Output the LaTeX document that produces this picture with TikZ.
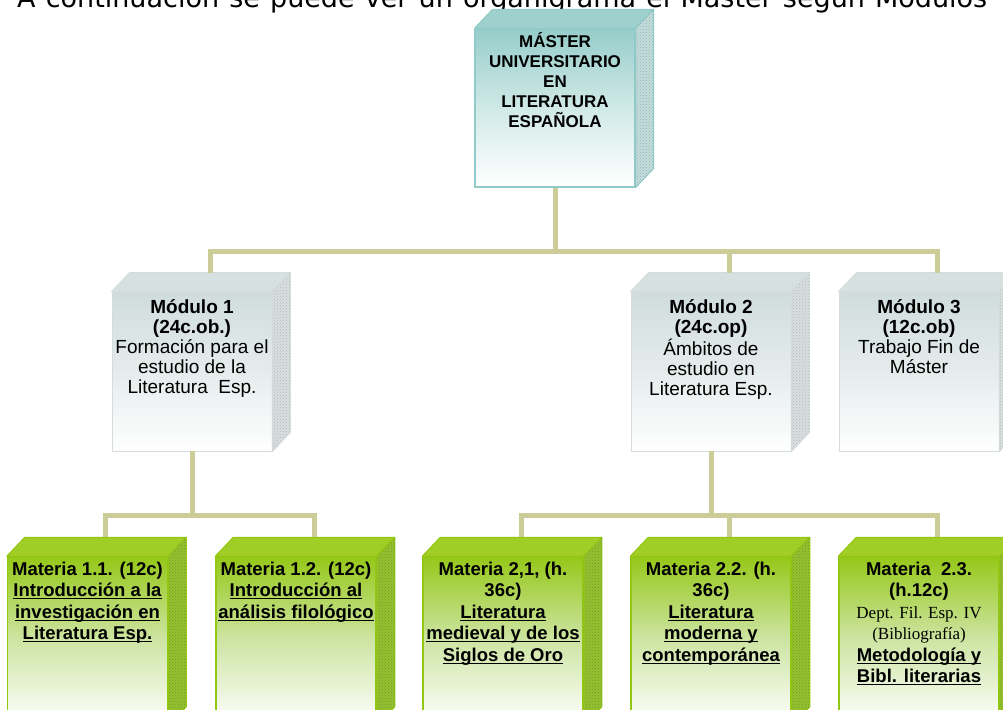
\documentclass[tikz,border=0pt]{standalone}
\usepackage{fontspec}
\setmainfont{Liberation Sans}
\newfontfamily\deptfont{Liberation Serif}
\newfontfamily\titlefont{DejaVu Sans}
\usetikzlibrary{positioning, patterns}

\definecolor{tealfront}{RGB}{150,205,202}
\definecolor{tealmid}{RGB}{208,233,231}
\definecolor{tealtop}{RGB}{158,209,206}
\definecolor{tealedge}{RGB}{145,202,200}
\definecolor{tealside}{RGB}{196,220,220}
\definecolor{tealdots}{RGB}{140,178,178}
\definecolor{grayfront}{RGB}{208,220,220}
\definecolor{graymid}{RGB}{229,236,236}
\definecolor{graytop}{RGB}{214,224,224}
\definecolor{grayedge}{RGB}{212,220,220}
\definecolor{grayside}{RGB}{218,222,222}
\definecolor{graydots}{RGB}{178,186,186}
\definecolor{greenfront}{RGB}{150,200,25}
\definecolor{greenmid}{RGB}{206,229,165}
\definecolor{greentop}{RGB}{160,206,38}
\definecolor{greenedge}{RGB}{146,198,20}
\definecolor{greenside}{RGB}{150,192,50}
\definecolor{greendots}{RGB}{112,158,30}
\definecolor{linkcol}{RGB}{204,204,153}

% underline with a fixed rule
\newsavebox\ulbox
\newcommand{\ulin}[1]{\sbox\ulbox{#1}\leavevmode\rlap{\rule[-2.6pt]{\wd\ulbox}{1.4pt}}\usebox\ulbox}

% top and side faces of a box: node, top colour, side colour, dots colour, edge colour
\newcommand{\boxsides}[5]{%
        \filldraw[fill=#2, draw=#5, line width=1pt, line join=round] (#1.north west) -- ++(18,-19) -- ([shift={(18,-19)}]#1.north east) -- (#1.north east) -- cycle;
        \filldraw[fill=#3, draw=#5, line width=1pt, line join=round] (#1.north east) -- ++(18,-19) -- ([shift={(18,-19)}]#1.south east) -- (#1.south east) -- cycle;
        \fill[pattern=crosshatch dots, pattern color=#4] (#1.north east) -- ++(18,-19) -- ([shift={(18,-19)}]#1.south east) -- (#1.south east) -- cycle;
        \coordinate (#1-top) at ([shift={(18,-19)}]#1.north);
}

\begin{document}
\begin{tikzpicture}[x=1pt, y=-1pt]

% Styles
        \tikzstyle{masterface}=[rectangle, draw=tealedge, line width=1.2pt, top color=tealfront, bottom color=white, middle color=tealmid, minimum width=160, minimum height=158, inner sep=0pt]
        \tikzstyle{modface}=[rectangle, draw=grayedge, line width=0.8pt, top color=grayfront, bottom color=white, middle color=graymid, minimum width=160, minimum height=159, inner sep=0pt]
        \tikzstyle{matface}=[rectangle, draw=greenedge, line width=1.5pt, top color=greenfront, bottom color=white, middle color=greenmid, minimum width=160, minimum height=168, inner sep=0pt]
        \tikzstyle{mastertext}=[inner sep=0pt, align=center, font=\bfseries\fontsize{17}{20}\selectfont]
        \tikzstyle{modtext}=[inner sep=0pt, align=center, font=\fontsize{19}{20}\selectfont]
        \tikzstyle{mattext}=[inner sep=0pt, align=center, font=\bfseries\fontsize{18.5}{21.5}\selectfont]
        \tikzstyle{link}=[draw=linkcol, line width=5pt]

        \useasboundingbox (0,0) rectangle (1003,709);
        \clip (0,0) rectangle (1003,709);
        \fill[white] (0,0) rectangle (1003,709);

% Title line
        \node[anchor=base west, inner sep=0pt, font=\titlefont\fontsize{27}{30}\selectfont] (title) at (17,7.5) {\makebox[970pt][s]{A continuación se puede ver un organigrama el Máster según Módulos}};

% Nodes
% Master
        \node[masterface] (master) at (555,108) {};
        \boxsides{master}{tealtop}{tealside}{tealdots}{tealedge}

% Modules
        \node[modface] (mod1) at (192,371.5) {};
        \node[modface] (mod2) at (711,371.5) {};
        \node[modface] (mod3) at (919,371.5) {};
        \boxsides{mod1}{graytop}{grayside}{graydots}{grayedge}
        \boxsides{mod2}{graytop}{grayside}{graydots}{grayedge}
        \boxsides{mod3}{graytop}{grayside}{graydots}{grayedge}

% Materias
        \node[matface] (mat11) at (87.5,641) {};
        \node[matface] (mat12) at (296,641) {};
        \node[matface] (mat21) at (503,641) {};
        \node[matface] (mat22) at (711,641) {};
        \node[matface] (mat23) at (919,641) {};
        \boxsides{mat11}{greentop}{greenside}{greendots}{greenedge}
        \boxsides{mat12}{greentop}{greenside}{greendots}{greenedge}
        \boxsides{mat21}{greentop}{greenside}{greendots}{greenedge}
        \boxsides{mat22}{greentop}{greenside}{greendots}{greenedge}
        \boxsides{mat23}{greentop}{greenside}{greendots}{greenedge}

% Texts
        \node[mastertext, below=3.5pt of master.north] (mastert) {MÁSTER\\UNIVERSITARIO\\EN\\LITERATURA\\ESPAÑOLA};
        \node[modtext, below=8pt of mod1.north] (mod1t) {\textbf{Módulo 1}\\\textbf{(24c.ob.)}\\Formación para el\\estudio de la\\Literatura\ \ Esp.};
        \node[modtext, below=8pt of mod2.north] (mod2t) {\textbf{Módulo 2}\\\textbf{(24c.op)}\\Ámbitos de\\estudio en\\Literatura Esp.};
        \node[modtext, below=8pt of mod3.north] (mod3t) {\textbf{Módulo 3}\\\textbf{(12c.ob)}\\Trabajo Fin de\\Máster};
        \node[mattext, below=5.5pt of mat11.north] (mat11t) {Materia 1.1. (12c)\\\ulin{Introducción a la}\\\ulin{investigación en}\\\ulin{Literatura Esp.}};
        \node[mattext, below=5.5pt of mat12.north] (mat12t) {Materia 1.2. (12c)\\\ulin{Introducción al}\\\ulin{análisis filológico}};
        \node[mattext, below=5.5pt of mat21.north] (mat21t) {Materia 2,1, (h.\\36c)\\\ulin{Literatura}\\\ulin{medieval y de los}\\\ulin{Siglos de Oro}};
        \node[mattext, below=5.5pt of mat22.north] (mat22t) {Materia 2.2. (h.\\36c)\\\ulin{Literatura}\\\ulin{moderna y}\\\ulin{contemporánea}};
        \node[mattext, below=5.5pt of mat23.north] (mat23t) {Materia\ \ 2.3.\\(h.12c)\\{\deptfont\mdseries\fontsize{17}{21.5}\selectfont Dept. Fil. Esp. IV}\\{\deptfont\mdseries\fontsize{17}{21.5}\selectfont (Bibliografía)}\\\ulin{Metodología y}\\\ulin{Bibl. literarias}};

% Connections
        \draw[link] (master.south) -- ++(0,64) coordinate (bus0) -| (mod1-top);
        \draw[link] (bus0) -| (mod2-top);
        \draw[link] (bus0) -| (mod3-top);
        \draw[link] (mod1.south) -- ++(0,64) coordinate (bus1) -| (mat11-top);
        \draw[link] (bus1) -| (mat12-top);
        \draw[link] (mod2.south) -- ++(0,64) coordinate (bus2) -| (mat21-top);
        \draw[link] (bus2) -| (mat22-top);
        \draw[link] (bus2) -| (mat23-top);

\end{tikzpicture}
\end{document}
